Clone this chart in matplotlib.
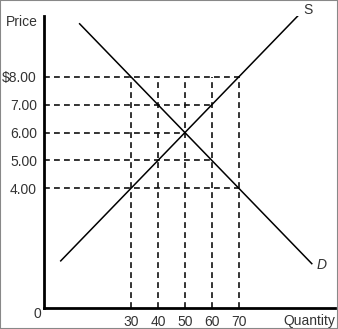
import matplotlib.pyplot as plt

# supply / demand lines (quantity, price) end points
demand_q = [11, 97]
demand_p = [9.9, 1.3]
supply_q = [4, 92]
supply_p = [1.4, 10.2]

price_ticks = [4, 5, 6, 7, 8]
price_labels = ['4.00', '5.00', '6.00', '7.00', '$8.00']
qty_ticks = [30, 40, 50, 60, 70]
qty_labels = ['30', '40', '50', '60', '70']

# how far each price guide line runs to the right
guide_ends = {8: 70, 7: 60, 6: 50, 5: 60, 4: 70}

plt.rcParams['font.family'] = ['Liberation Sans', 'DejaVu Sans']

fig = plt.figure(figsize=(3.38, 3.29), dpi=100)
ax = fig.add_axes([44 / 338, 21 / 329, 291 / 338, 292 / 329])

ax.set_xlim(-2.2, 105.6)
ax.set_ylim(-0.29, 10.18)

dash = dict(color='#111111', lw=1.2, linestyle=(0, (3.5, 2.5)))
for p, qend in guide_ends.items():
    ax.plot([-2.2, qend], [p, p], **dash)
for q in qty_ticks:
    ax.plot([q, q], [-0.29, 8], **dash)

ax.plot(demand_q, demand_p, color='black', lw=1.1)
ax.plot(supply_q, supply_p, color='black', lw=1.1)

ax.text(95.5, 10.4, 'S', fontsize=10, ha='center', va='center', color='#333333')
ax.text(100.5, 1.25, 'D', fontsize=10, style='italic', ha='center', va='center', color='#333333')

ax.set_xticks(qty_ticks)
ax.set_xticklabels(qty_labels, fontsize=10, color='#333333')
ax.set_yticks(price_ticks)
ax.set_yticklabels(price_labels, fontsize=10, color='#333333')
ax.tick_params(length=0, pad=5)

for side in ['top', 'right']:
    ax.spines[side].set_visible(False)
ax.spines['left'].set_linewidth(2)
ax.spines['bottom'].set_linewidth(2)

fig.text(38 / 338, 1 - 22 / 329, 'Price', fontsize=10, ha='right', va='center', color='#333333')
fig.text(335 / 338, 1 - 321 / 329, 'Quantity', fontsize=10, ha='right', va='center', color='#333333')
fig.text(37 / 338, 1 - 314 / 329, '0', fontsize=10, ha='center', va='center', color='#333333')

fig.patches.append(plt.Rectangle((0, 0), 1, 1, transform=fig.transFigure,
                                 fill=False, edgecolor='#888888', lw=1.5))

fig.savefig('out.png', dpi=100)
